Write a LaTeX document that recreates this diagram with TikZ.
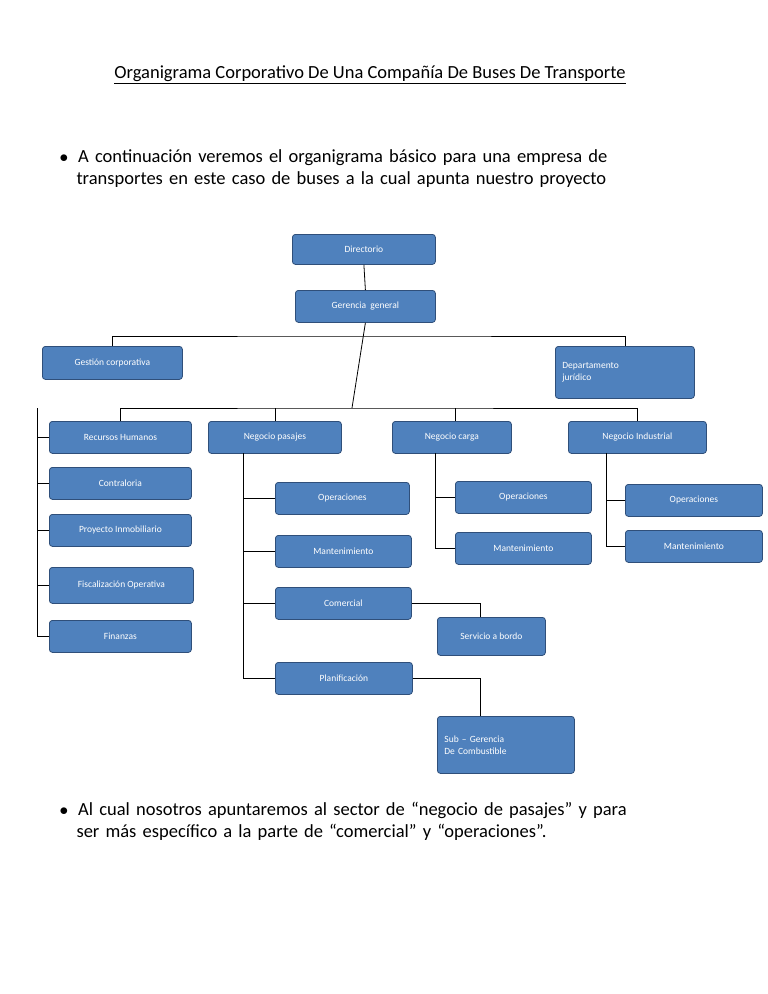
\documentclass[tikz,border=0pt]{standalone}
\usepackage{fontspec}
\setmainfont{Carlito}
\usetikzlibrary{calc}
\definecolor{cajaazul}{HTML}{4F81BD}
\definecolor{bordeazul}{HTML}{2F4F7A}
\tikzset{
  caja/.style={draw=bordeazul,thick,fill=cajaazul,rounded corners=3pt,text=white,
    font=\fontsize{9.5}{12}\selectfont,inner sep=3pt,anchor=north west},
  linea/.style={draw=black,thick}
}
\newcommand{\cajanode}[6]{% name, left, top, right, bottom, text
  \node[caja,minimum width=#4-#2,minimum height=#5-#3] (#1) at (#2,#3) {#6};}
\begin{document}
\begin{tikzpicture}[x=1pt,y=-1pt]
  \useasboundingbox (0,0) rectangle (768,994);
  \node[font=\fontsize{18.5}{22}\selectfont] (titulo) at (370,75) {\underline{Organigrama Corporativo De Una Compañía De Buses De Transporte}};
  \node[font=\fontsize{18.5}{22}\selectfont,anchor=north west,align=left,text width=600] (p1) at (56,146)
    {$\bullet$\hspace{10pt}A continuación veremos el organigrama básico para una empresa de\\\hspace{17pt}transportes en este caso de buses a la cual apunta nuestro proyecto};
  \node[font=\fontsize{18.5}{22}\selectfont,anchor=north west,align=left,text width=650] (p2) at (56,799)
    {$\bullet$\hspace{10pt}Al cual nosotros apuntaremos al sector de “negocio de pasajes” y para\\\hspace{17pt}ser más específico a la parte de “comercial” y “operaciones”.};
  % cajas
  \cajanode{dir}{292}{234}{435}{264}{Directorio}
  \cajanode{ger}{295}{290}{435}{322}{Gerencia\ \ general}
  \cajanode{ges}{42}{346}{182}{379}{Gestión corporativa\hspace{3em}}
  \node[caja,minimum width=139,minimum height=52,align=left,text width=125] (dep) at (555,346) {Departamento\\jurídico};
  \cajanode{rh}{49}{421}{191}{453}{Recursos Humanos}
  \cajanode{pas}{208}{421}{341}{453}{Negocio pasajes\hspace{2em}}
  \cajanode{car}{392}{421}{511}{453}{Negocio carga\hspace{2em}}
  \cajanode{ind}{568}{421}{706}{453}{Negocio Industrial}
  \cajanode{con}{49}{467}{191}{499}{Contraloria}
  \cajanode{inm}{49}{514}{191}{546}{Proyecto Inmobiliario}
  \cajanode{fis}{49}{567}{193}{603}{Fiscalización Operativa}
  \cajanode{fin}{49}{620}{191}{652}{Finanzas}
  \cajanode{opp}{275}{482}{409}{514}{Operaciones\hspace{3em}}
  \cajanode{map}{275}{535}{411}{567}{Mantenimiento\hspace{2.5em}}
  \cajanode{com}{275}{587}{411}{619}{Comercial\hspace{5em}}
  \cajanode{pla}{275}{662}{412}{694}{Planificación\hspace{4em}}
  \cajanode{ser}{437}{617}{545}{655}{Servicio a bordo}
  \node[caja,minimum width=137,minimum height=57,align=left,text width=123] (sub) at (437,716) {Sub -- Gerencia\\De Combustible};
  \cajanode{opc}{455}{481}{591}{513}{Operaciones\hspace{3em}}
  \cajanode{mac}{455}{532}{591}{564}{Mantenimiento\hspace{2.5em}}
  \cajanode{opi}{625}{484}{762}{516}{Operaciones}
  \cajanode{mai}{625}{530}{762}{562}{Mantenimiento\hspace{2.5em}}
  % conectores
  \coordinate (b1) at (360,336);
  \coordinate (b2) at (352,408);
  \begin{scope}[every path/.style={linea}]
  \draw (dir.south) -- (ger.north);
  \draw (ges.north) |- (b1) -| (dep.north);
  \draw (ger.south) -- (b2);
  \draw (rh.north) |- (b2) -| (ind.north);
  \draw (pas.north -| 275,0) -- (275,408);
  \draw (car.north -| 455,0) -- (455,408);
  \draw (37,408) |- (fin.west);
  \foreach \n in {rh,con,inm,fis} \draw (37,0 |- \n.west) -- (\n.west);
  \draw (243,453) |- (pla.west);
  \foreach \n in {opp,map,com} \draw (243,0 |- \n.west) -- (\n.west);
  \draw (435,453) |- (mac.west);
  \draw (435,0 |- opc.west) -- (opc.west);
  \draw (606,453) |- (mai.west);
  \draw (606,0 |- opi.west) -- (opi.west);
  \draw (com.east) -| (ser.north -| 480,0);
  \draw (pla.east) -| (sub.north -| 480,0);
  \end{scope}
\end{tikzpicture}
\end{document}
